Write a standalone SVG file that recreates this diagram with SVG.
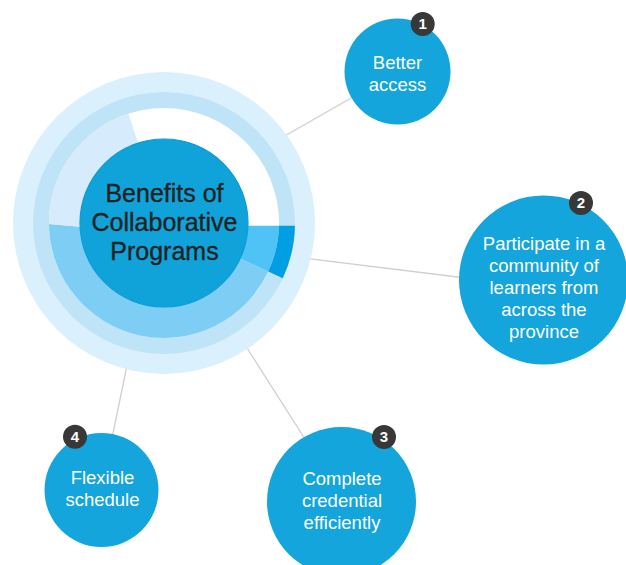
<svg xmlns="http://www.w3.org/2000/svg" width="626" height="565" viewBox="0 0 626 565">
  <style>
    .link { stroke: #cfcfcf; stroke-width: 1.3; fill: none; }
    .node { fill: #13a5dc; }
    .label { font-family: "Liberation Sans", Arial, sans-serif; font-size: 18.5px; fill: #ffffff; text-anchor: middle; }
    .title { font-family: "Liberation Sans", Arial, sans-serif; font-size: 25px; fill: #222222; stroke: #222222; stroke-width: 0.35; text-anchor: middle; }
    .badge { fill: #383838; }
    .num { font-family: "Liberation Sans", Arial, sans-serif; font-size: 15px; font-weight: bold; fill: #ffffff; text-anchor: middle; }
  </style>
  <rect width="626" height="565" fill="#ffffff"/>

  <!-- connectors from the hub to each benefit -->
  <g id="connectors">
    <line class="link" x1="265" y1="147.3" x2="397.5" y2="71.5"/>
    <line class="link" x1="300" y1="257.6" x2="470" y2="278.5"/>
    <line class="link" x1="240" y1="337" x2="312" y2="450"/>
    <line class="link" x1="128.1" y1="360" x2="110.6" y2="445"/>
  </g>

  <!-- central hub: concentric rings with segments -->
  <g id="hub">
    <circle cx="164" cy="223" r="151" fill="#daf0fc"/>
    <circle cx="164" cy="223" r="131" fill="#bfe4f8"/>
    <circle cx="164" cy="223" r="115" fill="#ffffff"/>
    <path fill="#7dcdf5" d="M268.22,271.6 A115,115 0 0 1 49,224 L80.08,226.67 A84,84 0 0 0 240.13,258.5 Z"/>
    <path fill="#d6ebfb" d="M49,224 A115,115 0 0 1 128.46,113.63 L138.04,143.11 A84,84 0 0 0 80.08,226.67 Z"/>
    <path fill="#4fc3f5" d="M278.97,225.7 A115,115 0 0 1 268.22,271.6 L240.13,258.5 A84,84 0 0 0 247.96,225.7 Z"/>
    <path fill="#009fe3" d="M294.97,225.7 A131,131 0 0 1 282.73,278.36 L268.22,271.6 A115,115 0 0 0 278.97,225.7 Z"/>
    <circle cx="164" cy="223" r="84" fill="#10a3da" stroke="#0a9cd8" stroke-width="1.2"/>
    <text class="title" x="164.5" y="201.5">Benefits of</text>
    <text class="title" x="164.5" y="231">Collaborative</text>
    <text class="title" x="164.5" y="260">Programs</text>
  </g>

  <g id="node-1">
    <circle class="node" cx="397.5" cy="71.5" r="53"/>
    <text class="label" x="397.5" y="69">Better</text>
    <text class="label" x="397.5" y="91">access</text>
    <circle class="badge" cx="422.7" cy="24" r="12"/>
    <text class="num" x="422.7" y="29.3">1</text>
  </g>

  <g id="node-2">
    <circle class="node" cx="543.5" cy="280" r="84.5"/>
    <text class="label" x="544" y="249.5">Participate in a</text>
    <text class="label" x="544" y="271.7">community of</text>
    <text class="label" x="544" y="293.9">learners from</text>
    <text class="label" x="544" y="316.1">across the</text>
    <text class="label" x="544" y="338.3">province</text>
    <circle class="badge" cx="581" cy="203" r="12"/>
    <text class="num" x="581" y="208.3">2</text>
  </g>

  <g id="node-3">
    <circle class="node" cx="341.5" cy="501.5" r="74.5"/>
    <text class="label" x="342" y="485">Complete</text>
    <text class="label" x="342" y="507">credential</text>
    <text class="label" x="342" y="529">efficiently</text>
    <circle class="badge" cx="384" cy="437" r="12"/>
    <text class="num" x="384" y="442.3">3</text>
  </g>

  <g id="node-4">
    <circle class="node" cx="101.5" cy="490" r="57"/>
    <text class="label" x="102.5" y="483.5">Flexible</text>
    <text class="label" x="102.5" y="505.5">schedule</text>
    <circle class="badge" cx="75" cy="436.7" r="12"/>
    <text class="num" x="75" y="442">4</text>
  </g>
</svg>
